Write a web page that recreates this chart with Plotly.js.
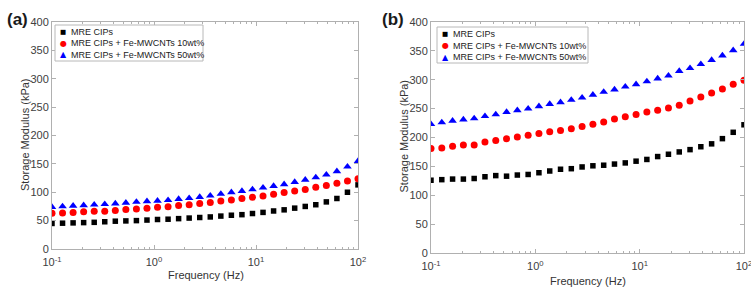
<!DOCTYPE html>
<html>
<head>
<meta charset="utf-8">
<script src="https://cdn.plot.ly/plotly-3.0.1.min.js"></script>
<style>
  html, body { margin: 0; padding: 0; background: #ffffff; }
  #chart { width: 751px; height: 287px; }
</style>
</head>
<body>
<div id="chart"></div>
<script>
// Frequency sweep points (Hz), 30 log-spaced points from 0.1 to 100 Hz
const frequency = [0.1, 0.1269, 0.161, 0.2043, 0.2593, 0.329, 0.4175, 0.5298, 0.6723, 0.8532,
  1.0826, 1.3738, 1.7433, 2.2122, 2.8072, 3.5622, 4.5204, 5.7362, 7.279, 9.2367,
  11.721, 14.874, 18.874, 23.95, 30.392, 38.566, 48.939, 62.102, 78.805, 100];

const seriesNames = ['MRE CIPs', 'MRE CIPs + Fe-MWCNTs 10wt%', 'MRE CIPs + Fe-MWCNTs 50wt%'];

// (a) storage modulus, kPa
const aCIPs = [45, 45.5, 46, 46.5, 47, 48, 49, 49.5, 50, 51, 52, 52.5, 53.5, 54.5, 55.5,
  56.5, 58, 59.5, 60.5, 62.5, 64.5, 67, 69, 72, 75, 78, 83, 89, 100, 113];
const aFe10 = [63, 63.5, 64.5, 65.5, 66.5, 66.5, 68, 69.5, 70.5, 72, 73.5, 74.5, 76.5, 78, 80,
  82, 84.5, 86.5, 89, 91, 93.5, 96.5, 99.5, 102, 105, 109, 112, 116, 120, 124];
const aFe50 = [74, 75, 76, 77, 78, 79, 80, 81.5, 83, 84, 85, 86, 88, 89.5, 91.5,
  94, 97, 100, 102, 105, 108, 111, 114, 118, 122, 126, 131, 137, 145, 155];

// (b) storage modulus, kPa
const bCIPs = [126, 127, 128, 128, 129, 132, 134, 133, 135, 136, 139, 142, 145, 146, 149,
  151, 152, 154, 156, 159, 162, 167, 171, 175, 179, 184, 189, 198, 209, 222];
const bFe10 = [181, 182, 185, 187, 187, 192, 195, 198, 201, 204, 207, 210, 212, 215, 219,
  223, 227, 232, 236, 240, 244, 247, 251, 256, 263, 270, 277, 284, 292, 299];
const bFe50 = [223, 226, 229, 231, 233, 237, 240, 244, 247, 250, 254, 258, 261, 265, 269,
  274, 279, 283, 288, 292, 297, 302, 307, 315, 320, 327, 334, 342, 351, 362];

const xTickVals = [0.1, 1, 10, 100];
const xTickText = ['10<sup>-1</sup>', '10<sup>0</sup>', '10<sup>1</sup>', '10<sup>2</sup>'];
const yTickVals = [0, 50, 100, 150, 200, 250, 300, 350, 400];

const W = 751, H = 287;
const px = v => v / W;
const py = v => 1 - v / H;

const styles = [
  { color: '#000000', symbol: 'square', size: 5.5, glyph: '■' },
  { color: '#ff0000', symbol: 'circle', size: 7, glyph: '●' },
  { color: '#0000ff', symbol: 'triangle-up', size: 7.5, glyph: '▲' }
];

function series(values, i, xa, ya) {
  return {
    x: frequency, y: values, type: 'scatter', mode: 'markers',
    name: seriesNames[i], xaxis: xa, yaxis: ya, showlegend: false,
    marker: { color: styles[i].color, symbol: styles[i].symbol, size: styles[i].size, line: { width: 0 } }
  };
}

const data = [
  series(aCIPs, 0, 'x', 'y'), series(aFe10, 1, 'x', 'y'), series(aFe50, 2, 'x', 'y'),
  series(bCIPs, 0, 'x2', 'y2'), series(bFe10, 1, 'x2', 'y2'), series(bFe50, 2, 'x2', 'y2')
];

const fontFamily = 'Liberation Sans, Arial, sans-serif';
const frameColor = '#b0b0b0';
const titleFont = { family: fontFamily, size: 11, color: '#333333' };

function xAxis(domain, anchor) {
  return {
    type: 'log', domain: domain, anchor: anchor, range: [-1, 2],
    tickmode: 'array', tickvals: xTickVals, ticktext: xTickText,
    ticks: 'inside', ticklen: 4, tickcolor: frameColor, ticklabelstandoff: 3,
    ticklabeloverflow: 'allow',
    minor: { ticks: 'inside', ticklen: 2, tickcolor: frameColor, dtick: 'D1', showgrid: false },
    showline: true, linecolor: frameColor, linewidth: 1, mirror: 'allticks',
    showgrid: false, zeroline: false,
    tickfont: { family: fontFamily, size: 11, color: '#404040' }
  };
}

function yAxis(domain, anchor) {
  return {
    domain: domain, anchor: anchor, range: [0, 400],
    tickmode: 'array', tickvals: yTickVals,
    ticks: 'inside', ticklen: 4, tickcolor: frameColor,
    showline: true, linecolor: frameColor, linewidth: 1, mirror: 'allticks',
    showgrid: false, zeroline: false,
    tickfont: { family: fontFamily, size: 11, color: '#404040' }
  };
}

// hand-built legend boxes: rectangle, marker glyphs and labels
function legend(x0, y0, x1, y1, mx, tx, rows) {
  const shapes = [{
    type: 'rect', xref: 'paper', yref: 'paper',
    x0: px(x0), x1: px(x1), y0: py(y1), y1: py(y0),
    line: { color: '#b8b8b8', width: 1 }, fillcolor: '#ffffff', layer: 'above'
  }];
  const ann = [];
  rows.forEach((ry, i) => {
    ann.push({
      xref: 'paper', yref: 'paper', x: px(mx), y: py(ry), xanchor: 'center', yanchor: 'middle',
      text: styles[i].glyph, showarrow: false,
      font: { family: 'DejaVu Sans', size: i === 0 ? 6.5 : 8, color: styles[i].color }
    });
    ann.push({
      xref: 'paper', yref: 'paper', x: px(tx), y: py(ry), xanchor: 'left', yanchor: 'middle',
      text: seriesNames[i], showarrow: false,
      font: { family: fontFamily, size: 9, color: '#222222' }
    });
  });
  return { shapes, ann };
}

const legA = legend(55, 25, 203, 61, 63, 68.5, [32, 43.5, 55]);
const legB = legend(437, 27, 588, 63, 445, 450.5, [34, 45.5, 57]);

// axis titles placed as paper annotations
function axisTitle(text, x, y, angle) {
  return { xref: 'paper', yref: 'paper', x: px(x), y: py(y), xanchor: 'center', yanchor: 'middle',
    text: text, textangle: angle, showarrow: false, font: titleFont };
}

const layout = {
  width: W, height: H,
  margin: { l: 0, r: 0, t: 0, b: 0 },
  paper_bgcolor: '#ffffff', plot_bgcolor: '#ffffff',
  showlegend: false,
  xaxis: xAxis([px(52), px(358)], 'y'),
  yaxis: yAxis([1 - 249 / H, 1 - 22 / H], 'x'),
  xaxis2: xAxis([px(431), px(744)], 'y2'),
  yaxis2: yAxis([1 - 253 / H, 1 - 22 / H], 'x2'),
  shapes: legA.shapes.concat(legB.shapes),
  annotations: [
    { xref: 'paper', yref: 'paper', x: px(5), y: py(19), xanchor: 'left', yanchor: 'middle',
      text: '<b>(a)</b>', showarrow: false, font: { family: fontFamily, size: 17, color: '#1a1a1a' } },
    { xref: 'paper', yref: 'paper', x: px(380), y: py(19), xanchor: 'left', yanchor: 'middle',
      text: '<b>(b)</b>', showarrow: false, font: { family: fontFamily, size: 17, color: '#1a1a1a' } },
    axisTitle('Storage Modulus (kPa)', 25, 135, -90),
    axisTitle('Storage Modulus (kPa)', 403.5, 136, -90),
    axisTitle('Frequency (Hz)', 205.5, 275, 0),
    axisTitle('Frequency (Hz)', 588, 280.5, 0)
  ].concat(legA.ann, legB.ann)
};

Plotly.newPlot('chart', data, layout, { staticPlot: true, displayModeBar: false });
</script>
</body>
</html>
